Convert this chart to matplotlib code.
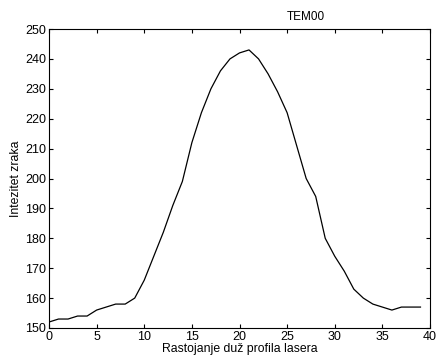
import matplotlib
matplotlib.use("Agg")
import matplotlib.pyplot as plt
import numpy as np

plt.rcParams['font.family'] = ['Liberation Sans', 'DejaVu Sans']

# profil intenziteta (ocitano sa slike)
rastojanje = list(range(40))
intenzitet = [152, 153, 153, 154, 154, 156, 157, 158, 158, 160,
              166, 174, 182, 191, 199, 212, 222, 230, 236, 240,
              242, 243, 240, 235, 229, 222, 211, 200, 194, 180,
              174, 169, 163, 160, 158, 157, 156, 157, 157, 157]

fig = plt.figure(figsize=(4.36, 3.59), dpi=100)
ax = fig.add_axes([49/436, 1 - 328/359, (430-49)/436, (328-29)/359])

ax.plot(rastojanje, intenzitet, color='k', lw=0.9)

ax.set_xlim(0, 40)
ax.set_ylim(150, 250)
ax.set_xticks(range(0, 41, 5))
ax.set_yticks(range(150, 251, 10))
ax.tick_params(direction='in', top=True, right=True, length=3, width=0.8,
               labelsize=9, pad=2)
for s in ax.spines.values():
    s.set_linewidth(0.8)

ax.set_xlabel('Rastojanje duž profila lasera', fontsize=8.8, labelpad=0)
ax.set_ylabel('Intezitet zraka', fontsize=8.8, labelpad=2)
fig.text(306/436, 1 - 17/359, 'TEM00', fontsize=8.5, ha='center', va='center')

fig.savefig('out.png', dpi=100)
